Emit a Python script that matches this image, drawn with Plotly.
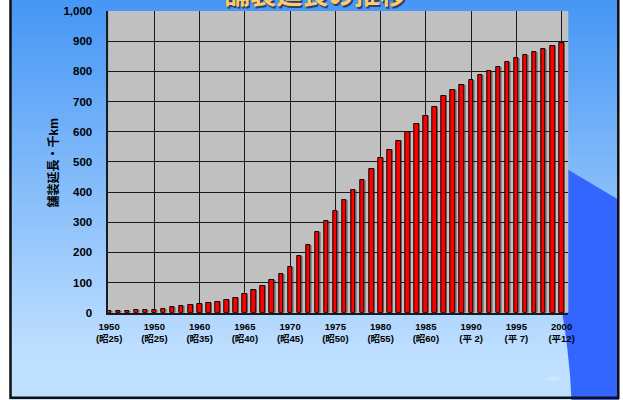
import plotly.graph_objects as go

# 舗装延長の推移 (千km), 1950–2000
years = list(range(1950, 2001))
paved_km = [
    5, 7, 7, 8, 8, 10, 11, 20, 22, 24,
    28, 31, 34, 41, 50, 61, 75, 90, 107, 128,
    151, 188, 224, 266, 303, 338, 373, 406, 441, 475,
    513, 538, 569, 600, 626, 653, 681, 718, 738, 755,
    771, 787, 801, 815, 830, 843, 855, 864, 875, 885,
    894,
]

tick_years = [1950, 1955, 1960, 1965, 1970, 1975, 1980, 1985, 1990, 1995, 2000]
tick_year_text = ["1950", "1950", "1960", "1965", "1970", "1975",
                  "1980", "1985", "1990", "1995", "2000"]
tick_era_text = ["(昭25)", "(昭25)", "(昭35)", "(昭40)", "(昭45)", "(昭50)",
                 "(昭55)", "(昭60)", "(平 2)", "(平 7)", "(平12)"]
y_ticks = list(range(0, 1001, 100))

title_text = "舗装延長の推移"
y_title_text = "舗装延長・千km"

W, H = 623, 400
FONT = "Liberation Sans, Arial, Noto Sans CJK JP, sans-serif"
CJK = "Noto Sans CJK JP, sans-serif"


def px(x):
    return x / W


def py(y):
    return 1 - y / H


def path(points):
    return "M " + " L ".join(f"{px(x):.5f},{py(y):.5f}" for x, y in points) + " Z"


fig = go.Figure()

# drop shadow behind each column
fig.add_bar(
    x=years, y=paved_km, width=0.5, offset=-0.08,
    marker=dict(color="rgba(50,50,50,0.35)", line=dict(width=0)),
    hoverinfo="skip", showlegend=False,
)
fig.add_bar(
    x=years, y=paved_km, width=0.5, offset=-0.25,
    marker=dict(color="#ff0000", line=dict(color="#000000", width=1)),
    showlegend=False,
)

shapes = []

# slide background: vertical blue gradient built from thin strips
top_c = (70, 150, 245)
bot_c = (192, 224, 255)
n = 60
y_end = 360.0
for i in range(n):
    y0 = i * y_end / n
    y1 = (i + 1) * y_end / n + 0.6
    t = (i + 0.5) / n
    c = tuple(round(a + (b - a) * t) for a, b in zip(top_c, bot_c))
    shapes.append(dict(type="rect", xref="paper", yref="paper", layer="below",
                       x0=px(10), x1=px(619), y0=py(y1), y1=py(y0),
                       fillcolor=f"rgb{c}", line=dict(width=0)))
shapes.append(dict(type="rect", xref="paper", yref="paper", layer="below",
                   x0=px(10), x1=px(619), y0=py(400), y1=py(y_end),
                   fillcolor=f"rgb{bot_c}", line=dict(width=0)))

# dark blue decorative panel on the right
shapes.append(dict(
    type="path", xref="paper", yref="paper", layer="below",
    path=path([(540, 153), (619, 200), (619, 400), (571.5, 400), (570, 375),
               (567.5, 350), (565, 330), (562, 312), (548, 250)]),
    fillcolor="#3366ff", line=dict(width=0)))

# plot area fill
shapes.append(dict(type="rect", xref="x domain", yref="y domain", layer="below",
                   x0=0, x1=1, y0=0, y1=1, fillcolor="#c0c0c0", line=dict(width=0)))

# slide frame
shapes.append(dict(type="rect", xref="paper", yref="paper", layer="below",
                   x0=px(10.5), x1=px(618.3), y0=py(397.8), y1=py(-10),
                   fillcolor="rgba(0,0,0,0)", line=dict(color="#111111", width=2.5)))

annotations = [
    # slide title, mostly above the visible area
    dict(text=title_text, x=px(315), y=py(-7.5), xref="paper", yref="paper",
         showarrow=False, xanchor="center", yanchor="middle",
         font=dict(family=CJK, size=26, color="#ffcc66", weight="bold",
                   shadow="1.5px 1.5px 0px rgba(40,40,70,0.8)")),
    # y-axis title
    dict(text=y_title_text, x=px(52.5), y=py(163), xref="paper", yref="paper",
         showarrow=False, textangle=-90, xanchor="center", yanchor="middle",
         font=dict(family=FONT, size=12, color="#000000", weight="bold")),
    # slide number placeholder
    dict(text="&lt;#&gt;", x=px(553.5), y=py(378), xref="paper", yref="paper",
         showarrow=False, xanchor="center", yanchor="middle",
         font=dict(family=FONT, size=8, color="rgba(235,245,255,0.9)")),
]

fig.update_layout(
    width=W, height=H,
    margin=dict(l=0, r=0, t=0, b=0),
    paper_bgcolor="#ffffff",
    plot_bgcolor="rgba(0,0,0,0)",
    barmode="overlay",
    bargap=0,
    showlegend=False,
    shapes=shapes,
    annotations=annotations,
    xaxis=dict(
        domain=[px(108.3), px(568.3)],
        range=[1949.91, 2000.74],
        tickvals=tick_years,
        ticktext=[f"{a}<br>{b}" for a, b in zip(tick_year_text, tick_era_text)],
        showgrid=True, gridcolor="#1a1a1a", gridwidth=1,
        showline=True, linecolor="#1a1a1a", linewidth=1.5,
        zeroline=False, ticks="", ticklabelstandoff=4,
        tickfont=dict(family=FONT, size=9.5, color="#000000", weight="bold"),
        automargin=False, fixedrange=True,
    ),
    yaxis=dict(
        domain=[py(312.7), py(11)],
        range=[0, 1000],
        tickvals=y_ticks,
        tickformat=",",
        showgrid=True, gridcolor="#1a1a1a", gridwidth=1,
        showline=True, linecolor="#1a1a1a", linewidth=1.5,
        zeroline=False, ticks="", ticklabelstandoff=12,
        tickfont=dict(family=FONT, size=11.5, color="#000000", weight="bold"),
        automargin=False, fixedrange=True,
    ),
)

fig.write_html("out.html")
